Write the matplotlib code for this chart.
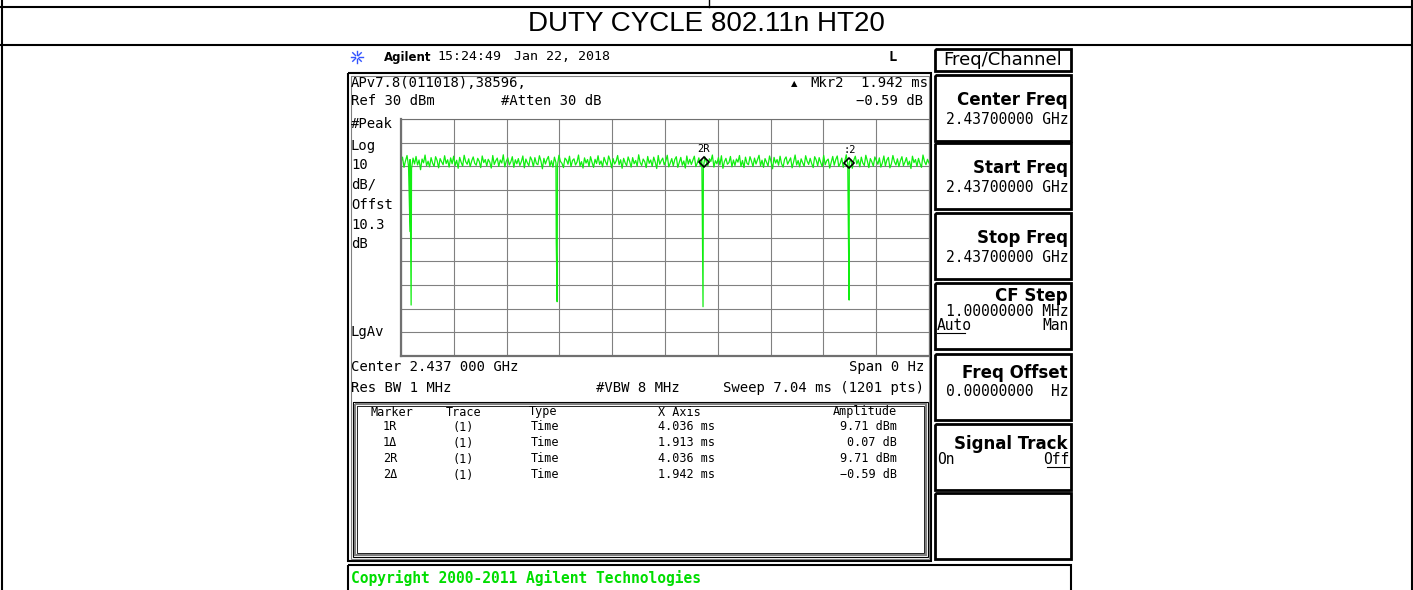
import matplotlib.pyplot as plt
import numpy as np
from matplotlib.transforms import offset_copy

W, H = 1413, 590
MONO = "DejaVu Sans Mono"

title = "DUTY CYCLE 802.11n HT20"

# sweep settings
sweep_ms = 7.04
ref_dbm = 30
db_per_div = 10

# trace level, one value every ~1.5 px (dBm)
trace_dbm = [
    11.8, 13.9, 9.6, 12.4, 14.6, 10.2, 12.9, 9.1, 13.5, 11.0, 14.2, 10.6, 12.7, 8.6, 13.1, 11.5,
    14.8, 10.3, 12.2, 9.8, 13.7, 11.4, 10.0, 14.1, 12.5, 9.4, 13.3, 11.9, 10.7, 14.5, 11.2, 12.8,
    9.7, 13.6, 11.1, 14.3, 10.4, 12.6, 9.2, 13.8, 11.7, 10.1, 14.7, 12.0, 10.9, 13.2, 9.9, 12.3,
    14.0, 11.3, 10.5, 13.4, 12.1, 9.5, 14.4, 11.6, 12.9, 10.2, 13.0, 11.8, 9.3, 14.6, 10.8, 12.4,
    13.5, 10.0, 12.7, 11.4, 14.9, 9.8, 12.2, 13.6, 10.6, 11.9, 14.1, 9.6, 12.8, 11.1, 13.3, 10.4,
    12.0, 14.4, 9.4, 13.1, 11.5, 10.3, 14.0, 12.6, 9.9, 13.7, 11.2, 10.7, 14.5, 12.3, 9.0, 13.4,
    11.0, 12.9, 14.2, 10.1, 12.4, 9.7, 13.9, 11.6, 10.4, 14.7, 12.1, 11.3, 9.5, 13.5, 12.7, 10.9,
    14.3, 9.9, 12.5, 13.2, 10.6, 11.8, 14.8, 10.2, 12.0, 9.3, 13.6, 11.4, 12.9, 10.0, 14.1, 11.7,
    9.6, 13.0, 11.2, 14.5, 10.8, 12.3, 9.8, 13.8, 11.9, 10.5, 14.4, 12.6, 9.4, 13.3, 11.0, 12.2,
    14.6, 10.7, 12.8, 9.2, 13.4, 11.5, 10.3, 14.0, 12.1, 9.7, 13.7, 11.1, 12.5, 10.1, 14.9, 11.6,
    10.4, 13.1, 12.0, 9.5, 14.2, 11.3, 12.7, 10.0, 13.9, 11.8, 9.1, 14.6, 10.9, 12.4, 13.5, 10.6,
    12.2, 14.7, 9.8, 11.4, 13.3, 10.2, 12.9, 14.1, 9.6, 11.7, 13.8, 10.5, 12.3, 9.3, 14.4, 11.0,
    13.0, 10.8, 12.6, 14.3, 9.9, 11.5, 13.6, 10.1, 12.8, 9.4, 14.0, 11.9, 10.3, 13.2, 12.1, 14.8,
    9.7, 12.4, 11.1, 13.7, 10.6, 14.5, 9.2, 12.0, 13.4, 10.9, 11.6, 14.2, 9.8, 12.7, 10.4, 13.1,
    11.8, 14.6, 10.0, 12.5, 9.5, 13.9, 11.3, 10.7, 14.1, 12.2, 9.9, 13.5, 11.0, 12.8, 14.7, 10.3,
    12.6, 9.6, 13.3, 11.7, 10.2, 14.4, 12.0, 9.0, 13.8, 11.4, 12.9, 10.5, 14.3, 11.1, 9.7, 13.0,
    14.0, 10.9, 12.3, 13.6, 9.4, 11.9, 14.8, 10.6, 12.5, 9.8, 13.2, 11.5, 10.1, 14.5, 12.2, 10.8,
    13.4, 11.2, 9.5, 14.1, 12.7, 10.3, 13.7, 11.6, 9.9, 14.6, 10.7, 12.4, 13.1, 9.3, 11.8, 14.2,
    10.5, 12.9, 14.4, 10.0, 11.3, 13.5, 9.6, 12.1, 14.9, 10.8, 11.7, 13.0, 9.2, 12.6, 14.3, 11.0,
    12.8, 9.8, 13.9, 11.4, 10.4, 14.7, 12.3, 9.5, 13.3, 11.9, 10.1, 14.0, 12.5, 10.9, 13.6, 9.7,
    11.5, 14.4, 10.2, 12.7, 13.8, 9.4, 11.1, 14.6, 12.0, 10.6, 13.2, 9.9, 12.4, 14.1, 10.3, 11.8,
    13.7, 10.5, 12.2, 9.1, 14.3, 11.6, 12.9, 10.0, 13.4, 11.2, 9.6, 14.8, 12.1, 10.7, 13.0, 11.4,
]

# the transmission gaps (dips) in the trace
dip_ms = [0.120, 0.135, 2.070, 2.082, 4.027, 5.965, 5.975]
dip_dbm = [-17.5, -48.5, -22.0, -47.1, -49.2, -17.6, -46.4]

# on-screen markers
mkr_ms = [4.036, 5.978]
mkr_dbm = [9.71, 9.12]
mkr_tags = ["2R", ":2"]

# marker table
tbl_marker = ["1R", "1Δ", "2R", "2Δ"]
tbl_trace = ["(1)", "(1)", "(1)", "(1)"]
tbl_type = ["Time", "Time", "Time", "Time"]
tbl_x = ["4.036 ms", "1.913 ms", "4.036 ms", "1.942 ms"]
tbl_amp = ["9.71 dBm", "0.07 dB", "9.71 dBm", "−0.59 dB"]

# soft keys
key_names = ["Center Freq", "Start Freq", "Stop Freq", "CF Step",
             "Freq Offset", "Signal Track", ""]
key_values = ["2.43700000 GHz", "2.43700000 GHz", "2.43700000 GHz",
              "1.00000000 MHz", "0.00000000  Hz", "", ""]
key_tops = [75, 143, 213, 283, 354, 424, 493]

side_labels = ["#Peak", "Log", "10", "dB/", "Offst", "10.3", "dB"]
side_y = [124, 146, 165, 184, 205, 225, 244]


def box(ax, x0, y0, x1, y1, color="black", lw=1.5):
    ax.plot([x0, x1, x1, x0, x0], [y0, y0, y1, y1, y0], color=color, lw=lw,
            solid_joinstyle="miter", solid_capstyle="butt")


def txt(ax, x, y, s, size=10, ha="left", family=MONO, **kw):
    ax.text(x, y, s, fontsize=size, ha=ha, va="center", family=family, **kw)


def key_title(top_y, name):
    txt(bg, 1068, top_y, name, size=12, ha="right", family="DejaVu Sans",
        weight="bold")


fig = plt.figure(figsize=(W / 100, H / 100), dpi=100)
bg = fig.add_axes([0, 0, 1, 1])
bg.set_xlim(0, W)
bg.set_ylim(H, 0)
bg.axis("off")

# outer report table
bg.plot([1.5, 1.5], [0, H], color="black", lw=1.5)
bg.plot([W - 1.5, W - 1.5], [0, H], color="black", lw=1.5)
bg.plot([0, W], [7, 7], color="black", lw=1.5)
bg.plot([0, W], [45, 45], color="black", lw=1.5)
bg.plot([709, 709], [0, 7], color="black", lw=1)
txt(bg, 706, 24, title, size=20, ha="center", family="Liberation Sans")

# analyzer header line
for a in np.linspace(0, 2 * np.pi, 8, endpoint=False):
    bg.plot([357 + 2 * np.cos(a), 357 + 6 * np.cos(a)],
            [57 + 2 * np.sin(a), 57 + 6 * np.sin(a)], color="#3355ff", lw=1)
txt(bg, 384, 57, "Agilent", size=8.5, family="DejaVu Sans", weight="bold")
txt(bg, 437, 57, "15:24:49", size=9.5)
txt(bg, 514, 57, "Jan 22, 2018", size=9.5)
txt(bg, 888, 57, "L", size=10, weight="bold")

# main screen frame
box(bg, 348, 73, 931, 561, lw=1.5)
box(bg, 350.5, 75.5, 928.5, 558.5, color="#808080", lw=0.8)

txt(bg, 351, 83, "APv7.8(011018),38596,")
txt(bg, 791, 84, "▲", size=6, family="DejaVu Sans")
txt(bg, 810, 83, "Mkr2")
txt(bg, 928, 83, "1.942 ms", ha="right")
txt(bg, 351, 101, "Ref 30 dBm")
txt(bg, 501, 101, "#Atten 30 dB")
txt(bg, 923, 101, "−0.59 dB", ha="right")
for s, y in zip(side_labels, side_y):
    txt(bg, 351, y, s)
txt(bg, 351, 332, "LgAv")
txt(bg, 351, 367, "Center 2.437 000 GHz")
txt(bg, 924, 367, "Span 0 Hz", ha="right")
txt(bg, 351, 388, "Res BW 1 MHz")
txt(bg, 596, 388, "#VBW 8 MHz")
txt(bg, 924, 388, "Sweep 7.04 ms (1201 pts)", ha="right")

# marker table
box(bg, 353, 402, 928, 557, color="black", lw=0.8)
box(bg, 355, 404, 926, 555, color="#808080", lw=1.5)
box(bg, 357, 406, 924, 553, color="black", lw=0.6)
txt(bg, 392, 412, "Marker", size=8.5, ha="center")
txt(bg, 464, 412, "Trace", size=8.5, ha="center")
txt(bg, 529, 412, "Type", size=8.5)
txt(bg, 658, 412, "X Axis", size=8.5)
txt(bg, 897, 412, "Amplitude", size=8.5, ha="right")
for i in range(len(tbl_marker)):
    y = 427 + 16 * i
    txt(bg, 390, y, tbl_marker[i], size=8.5, ha="center")
    txt(bg, 463, y, tbl_trace[i], size=8.5, ha="center")
    txt(bg, 531, y, tbl_type[i], size=8.5)
    txt(bg, 658, y, tbl_x[i], size=8.5)
    txt(bg, 897, y, tbl_amp[i], size=8.5, ha="right")

# copyright bar
box(bg, 348, 565, 1071, 593, lw=1.5)
txt(bg, 351, 578, "Copyright 2000-2011 Agilent Technologies", size=10.5,
    weight="bold", color="#00dd00")

# soft keys
box(bg, 935, 49, 1071, 71, lw=2)
txt(bg, 1003, 60, "Freq/Channel", size=13, ha="center", family="DejaVu Sans")
for name, val, top in zip(key_names, key_values, key_tops):
    box(bg, 935, top, 1071, top + 66, lw=2)
    if name == "CF Step":
        key_title(top + 13, name)
        txt(bg, 1069, top + 29, val, size=10.5, ha="right")
        txt(bg, 937, top + 43, "Auto", size=10.5)
        txt(bg, 1069, top + 43, "Man", size=10.5, ha="right")
        bg.plot([937, 965], [top + 50, top + 50], color="black", lw=0.8)
    elif name == "Freq Offset":
        key_title(top + 19, name)
        txt(bg, 1069, top + 37, val, size=10.5, ha="right")
    elif name == "Signal Track":
        key_title(top + 20, name)
        txt(bg, 937, top + 36, "On", size=10.5)
        txt(bg, 1069, top + 36, "Off", size=10.5, ha="right")
        bg.plot([1047, 1069], [top + 43, top + 43], color="black", lw=0.8)
    elif name:
        key_title(top + 25, name)
        txt(bg, 1069, top + 44, val, size=10.5, ha="right")

# trace graticule
gx0, gx1, gy0, gy1 = 401, 929, 119, 356
ax = fig.add_axes([gx0 / W, 1 - gy1 / H, (gx1 - gx0) / W, (gy1 - gy0) / H])
ax.set_xlim(0, sweep_ms)
ax.set_ylim(ref_dbm - 10 * db_per_div, ref_dbm)
ax.set_xticks(np.linspace(0, sweep_ms, 11))
ax.set_yticks(np.arange(ref_dbm - 10 * db_per_div, ref_dbm + 1, db_per_div))
ax.tick_params(length=0, labelbottom=False, labelleft=False)
ax.grid(color="#808080", lw=0.8)
ax.set_axisbelow(True)
ax.patch.set_alpha(0)
for side, sp in ax.spines.items():
    sp.set_color("#707070")
    sp.set_linewidth(1.6 if side in ("left", "bottom") else 0.8)

t = np.linspace(0, sweep_ms, len(trace_dbm))
tt = np.concatenate([t, dip_ms])
vv = np.concatenate([trace_dbm, dip_dbm])
order = np.argsort(tt, kind="stable")
ax.plot(tt[order], vv[order], color="#11ee11", lw=0.9, clip_on=False)

lift = offset_copy(ax.transData, fig=fig, x=0, y=5, units="dots")
ax.plot(mkr_ms, mkr_dbm, "D", ms=5, mfc="none", mec="black", mew=1.2,
        transform=lift)
for x, y, s in zip(mkr_ms, mkr_dbm, mkr_tags):
    ax.annotate(s, (x, y), xytext=(0, 18), textcoords="offset pixels",
                ha="center", va="center", fontsize=7.5, family=MONO)

fig.savefig("out.png", dpi=100)
